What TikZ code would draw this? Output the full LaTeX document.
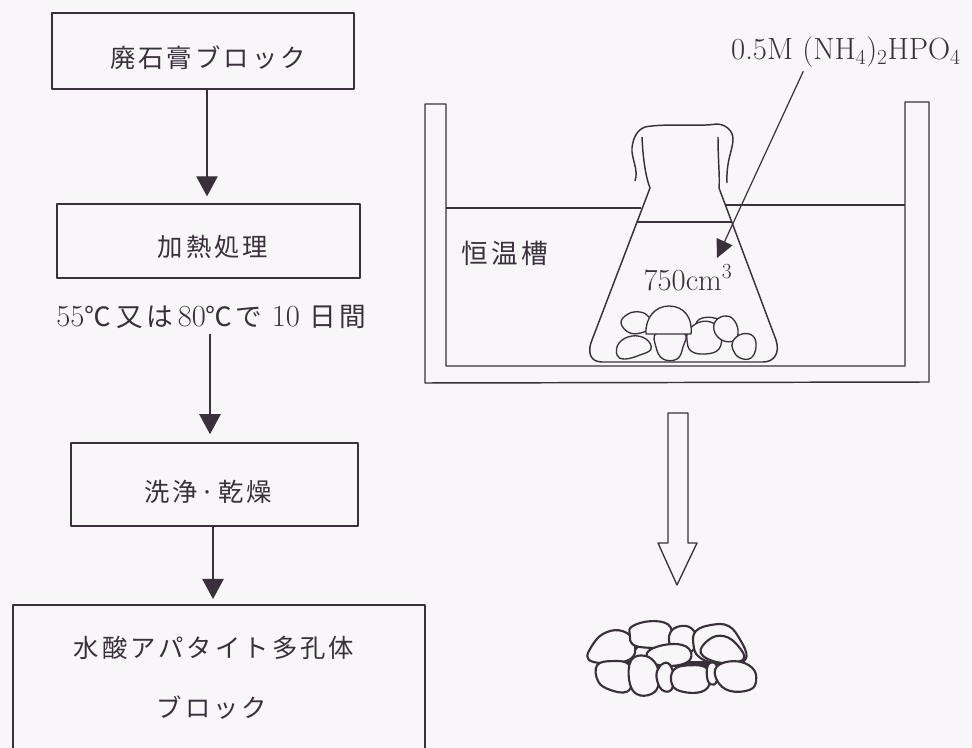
\documentclass[tikz,border=0pt]{standalone}
\usepackage{fontspec}
\usetikzlibrary{arrows.meta}
\newfontfamily\jp{Noto Sans CJK JP}[LetterSpace=12]
\definecolor{ink}{RGB}{58,48,60}
\definecolor{paper}{RGB}{248,246,248}

\begin{document}
\begin{tikzpicture}[x=0.75pt,y=-0.75pt,line join=round,
  procbox/.style={draw=ink,rectangle,inner sep=0pt},
  jptext/.style={text=ink,inner sep=0pt,font=\fontsize{19}{19}\selectfont\jp},
  latin/.style={text=ink,inner sep=0pt,font=\fontsize{23}{23}\selectfont},
  flow/.style={draw=ink,line width=1pt,-{Triangle[length=15pt,width=16pt]}},
  ptr/.style={draw=ink,line width=0.9pt,-{Triangle[length=13.5pt,width=13pt]}},
  outline/.style={draw=ink,line width=1.1pt},
  rock/.style={draw=ink,line width=1pt,fill=paper},
  pile/.style={draw=ink,line width=1.6pt,fill=paper}]

\useasboundingbox (0,0) rectangle (972,748);
\fill[paper] (0,0) rectangle (972,748);
\clip (0,0) rectangle (972,748);

% ---------------- flow chart ----------------
\node[procbox,line width=1.5pt,minimum width=302*0.75pt,minimum height=76*0.75pt] (b1) at (203,51) {};
\node[procbox,line width=1pt,minimum width=303*0.75pt,minimum height=74*0.75pt] (b2) at (208.5,241) {};
\node[procbox,line width=1.2pt,minimum width=287*0.75pt,minimum height=83*0.75pt] (b3) at (214.5,484.5) {};
\node[procbox,line width=1.5pt,minimum width=412*0.75pt,minimum height=160*0.75pt] (b4) at (219,685) {};

\node[jptext] (t1) at (208,58) {廃石膏ブロック};
\node[jptext] (t2) at (213,247) {加熱処理};
\node[text=ink,inner sep=0pt,font=\fontsize{23}{23}\selectfont] (cond) at (211,317)
  {55{\fontsize{20}{20}\selectfont\jp ℃}\,{\fontsize{20}{20}\selectfont\jp 又は}\,80{\fontsize{20}{20}\selectfont\jp ℃で} 10 {\fontsize{20}{20}\selectfont\jp 日間}};
\node[jptext] (t3) at (208,492) {洗浄·乾燥};
\node[jptext] (t4a) at (214,648) {水酸アパタイト多孔体};
\node[jptext] (t4b) at (212,708) {ブロック};

\coordinate (x1) at (207,0);
\coordinate (x2) at (210,0);
\coordinate (x3) at (213,0);
\draw[flow,shorten >=5.25pt] (b1.south -| x1) -- (b2.north -| x1);
\draw[flow,shorten <=4pt,shorten >=6pt] (cond.south -| x2) -- (b3.north -| x2);
\draw[flow,shorten >=3.75pt] (b3.south -| x3) -- (b4.north -| x3);

% ---------------- thermostatic bath ----------------
\draw[outline] (425,383) -- (425,104) -- (446,104) -- (446,366) -- (905,366)
  -- (905,102) -- (929,102) -- (929,382) -- cycle;
% bath water surface
\draw[outline] (446,208) -- (641,208);
\draw[outline] (725,205) -- (905,205);
\node[jptext,font=\fontsize{20}{20}\selectfont\jp] (bath) at (505,253) {恒温槽};

% flask with a cloth cover over its mouth
\draw[outline] (642,137) .. controls (643,160) and (646,178) .. (650,188)
  -- (592,340) .. controls (587,352) and (590,362) .. (602,362)
  -- (763,362) .. controls (775,362) and (780,352) .. (776,340)
  -- (719,188) .. controls (720,178) and (718,160) .. (718,137);
\draw[outline] (635,181) .. controls (639,170) and (631,158) .. (632,148)
  .. controls (633,138) and (637,130) .. (645,127)
  .. controls (665,123) and (700,127) .. (716,124)
  .. controls (726,124) and (733,131) .. (733,139)
  .. controls (733,150) and (726,160) .. (727,183);
% liquid level inside the flask
\draw[outline] (637,222) -- (732,222);

% stones in the flask
\draw[rock] plot[smooth cycle,tension=0.7] coordinates {(621,323) (628,314) (640,312) (649,317) (651,326) (644,332) (630,333)};
\draw[rock] plot[smooth cycle,tension=0.7] coordinates {(617,355) (619,343) (632,336) (646,339) (651,349) (640,355) (625,359)};
\draw[rock] plot[smooth cycle,tension=0.7] coordinates {(689,330) (700,322) (713,323) (721,333) (719,349) (705,354) (691,351) (687,340)};
\draw[outline,line width=1pt] (696,324) .. controls (697,317) and (710,315) .. (720,320);
\draw[rock] plot[smooth cycle,tension=0.7] coordinates {(715,322) (724,316) (733,319) (738,330) (735,340) (724,341) (715,333)};
\draw[rock] plot[smooth cycle,tension=0.7] coordinates {(733,341) (742,334) (753,336) (756,347) (751,358) (740,358) (733,350)};
\draw[rock] plot[smooth cycle,tension=0.7] coordinates {(657,333) (656,347) (663,359) (677,359) (683,347) (684,333)};
\draw[rock] (646,334) .. controls (645,318) and (655,306) .. (669,306)
  .. controls (684,306) and (693,318) .. (691,334) -- cycle;
\node[latin] (vol) at (688,278) {750cm\textsuperscript{3}};

% solution label and pointer
\node[latin] (lab) at (846,52) {0.5M (NH\textsubscript{4})\textsubscript{2}HPO\textsubscript{4}};
\coordinate (p0) at (805,0);
\coordinate (tip) at (717,258);
\draw[ptr,shorten <=3pt] (lab.south -| p0) -- (tip);

% ---------------- hollow arrow ----------------
\draw[outline,line width=1pt] (668,413) -- (688,413) -- (688,543) -- (697,543)
  -- (677,585) -- (658,543) -- (668,543) -- cycle;

% ---------------- resulting porous blocks ----------------
% dark joints between the packed blocks
\fill[ink] (600,661) -- (745,661) -- (745,667) -- (600,667) -- cycle;
\fill[ink] (630,640) -- (634,652) -- (640,646) -- cycle;
\fill[ink] (692,646) -- (700,652) -- (697,640) -- cycle;
\begin{scope}[every path/.append style={pile}]
\draw[scale around={1.06:(612,647)}] plot[smooth cycle,tension=0.7] coordinates {(590,659) (595,643) (607,633) (622,632) (632,641) (632,656) (615,662)};
\draw[scale around={1.06:(651,635)}] plot[smooth cycle,tension=0.7] coordinates {(633,627) (650,622) (667,625) (671,637) (667,646) (648,647) (634,644) (631,635)};
\draw[scale around={1.06:(683,640)}] plot[smooth cycle,tension=0.7] coordinates {(671,633) (680,627) (691,629) (696,640) (691,651) (680,652) (671,645)};
\draw[scale around={1.06:(720,644)}] plot[smooth cycle,tension=0.7] coordinates {(697,632) (712,626) (728,627) (739,640) (745,656) (735,662) (715,662) (700,656) (695,645)};
\draw[scale around={1.06:(722,651)}] plot[smooth cycle,tension=0.7] coordinates {(702,653) (710,640) (724,637) (737,646) (742,659) (720,662)};
\draw[scale around={1.06:(669,656)}] plot[smooth cycle,tension=0.7] coordinates {(650,651) (668,645) (685,647) (690,657) (681,664) (662,665) (650,660)};
\draw[scale around={1.06:(614,677)}] plot[smooth cycle,tension=0.7] coordinates {(598,666) (612,662) (628,665) (631,680) (626,691) (610,689) (599,681)};
\draw[scale around={1.06:(644,676)}] plot[smooth cycle,tension=0.7] coordinates {(632,661) (645,657) (656,666) (658,683) (651,693) (637,693) (630,680)};
\draw[scale around={1.06:(665,677)}] plot[smooth cycle,tension=0.7] coordinates {(660,667) (668,664) (673,675) (671,689) (662,689) (657,677)};
\draw[scale around={1.06:(691,679)}] plot[smooth cycle,tension=0.7] coordinates {(675,670) (691,666) (706,669) (709,682) (701,691) (683,691) (673,684)};
\draw[scale around={1.06:(713,674)}] plot[smooth cycle,tension=0.7] coordinates {(708,666) (715,664) (718,675) (714,684) (708,680)};
\draw[scale around={1.06:(736,676)}] plot[smooth cycle,tension=0.7] coordinates {(718,667) (735,662) (751,668) (755,680) (749,689) (730,690) (718,680)};
\end{scope}
\end{tikzpicture}
\end{document}
